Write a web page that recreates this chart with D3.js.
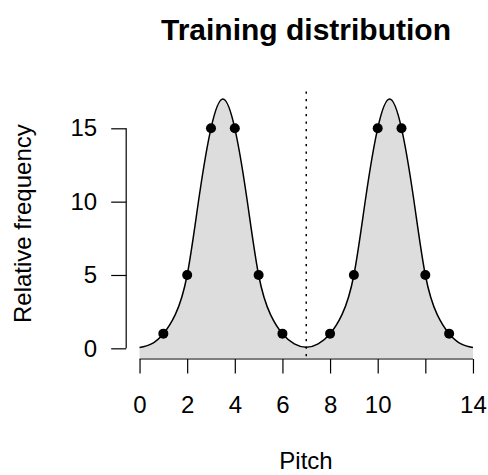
<!DOCTYPE html>
<html><head><meta charset="utf-8">
<script src="https://cdn.jsdelivr.net/npm/d3@7"></script>
<style>body{margin:0;background:#fff}svg{display:block}text{font-family:"Liberation Sans",Arial,sans-serif;fill:#000}</style>
</head><body>
<script>
// Observed training points
const pitches = [1,2,3,4,5,6,8,9,10,11,12,13];
const freqs   = [1,5,15,15,5,1,1,5,15,15,5,1];
// Smooth curve (x, y)
const curveX = [0,0.5,1,1.5,2,2.5,3,3.5,4,4.5,5,5.5,6,6.5,7,7.5,8,8.5,9,9.5,10,10.5,11,11.5,12,12.5,13,13.5,14];
const curveY = [0.05,0.3,1,2.3,5,10.3,15,17,15,10.3,5,2.3,1,0.3,0.07,0.3,1,2.3,5,10.3,15,17,15,10.3,5,2.3,1,0.3,0.05];
const xTicks = [0,2,4,6,8,10,12,14];
const xTickLabels = ["0","2","4","6","8","10","","14"];
const yTicks = [0,5,10,15];
const boundary = 7;

const W=488,H=475;
const svg=d3.select("body").append("svg").attr("width",W).attr("height",H);
const x=d3.scaleLinear().domain([-0.56,14.56]).range([126.2,486.3]);
const y=d3.scaleLinear().domain([-0.68,17.68]).range([358.3,89]);

svg.append("defs").append("clipPath").attr("id","plot").append("rect")
  .attr("x",x(-0.56)).attr("y",y(17.68)).attr("width",x(14.56)-x(-0.56)).attr("height",y(-0.68)-y(17.68));

const pts=curveX.map((v,i)=>[v,curveY[i]]);
const g=svg.append("g").attr("clip-path","url(#plot)");
g.append("path").datum(pts)
  .attr("d",d3.area().x(d=>x(d[0])).y0(y(-0.68)).y1(d=>y(d[1])).curve(d3.curveNatural))
  .attr("fill","#dddddd");
g.append("path").datum(pts)
  .attr("d",d3.line().x(d=>x(d[0])).y(d=>y(d[1])).curve(d3.curveNatural))
  .attr("fill","none").attr("stroke","#000").attr("stroke-width",1.5);
g.append("line").attr("x1",x(boundary)).attr("x2",x(boundary)).attr("y1",y(17.68)+2.5).attr("y2",y(-0.68))
  .attr("stroke","#000").attr("stroke-width",1.5).attr("stroke-dasharray","2.2,5.3");
g.selectAll("circle").data(pitches).enter().append("circle")
  .attr("cx",d=>x(d)).attr("cy",(d,i)=>y(freqs[i])).attr("r",5).attr("fill","#000");

// X axis (R style: line only spans first to last tick)
const xy=y(-0.68)+0.7;
const xa=svg.append("g").attr("transform",`translate(0,${xy})`)
  .call(d3.axisBottom(x).tickValues(xTicks).tickSize(14.5).tickSizeOuter(0).tickPadding(22)
    .tickFormat((d,i)=>xTickLabels[i]));
xa.select(".domain").remove();
xa.append("line").attr("x1",x(xTicks[0])).attr("x2",x(xTicks[xTicks.length-1])).attr("y1",0).attr("y2",0)
  .attr("stroke","#000").attr("stroke-width",1.2);
xa.selectAll(".tick line").attr("stroke-width",1.2);
xa.selectAll("text").attr("font-size",24).attr("font-family","Liberation Sans, Arial, sans-serif");

// Y axis
const ya=svg.append("g").attr("transform",`translate(${x(-0.56)},0)`)
  .call(d3.axisLeft(y).tickValues(yTicks).tickSize(15).tickSizeOuter(0).tickPadding(14));
ya.select(".domain").remove();
ya.append("line").attr("x1",0).attr("x2",0).attr("y1",y(yTicks[0])).attr("y2",y(yTicks[yTicks.length-1]))
  .attr("stroke","#000").attr("stroke-width",1.2);
ya.selectAll(".tick line").attr("stroke-width",1.2);
ya.selectAll("text").attr("font-size",24).attr("font-family","Liberation Sans, Arial, sans-serif");

svg.append("text").attr("x",306).attr("y",40).attr("text-anchor","middle")
  .attr("font-size",30).attr("font-weight","bold").text("Training distribution");
svg.append("text").attr("x",306).attr("y",469).attr("text-anchor","middle")
  .attr("font-size",24).text("Pitch");
svg.append("text").attr("transform",`translate(31,${(y(17.68)+y(-0.68))/2}) rotate(-90)`)
  .attr("text-anchor","middle").attr("font-size",24).text("Relative frequency");
</script>
</body></html>
